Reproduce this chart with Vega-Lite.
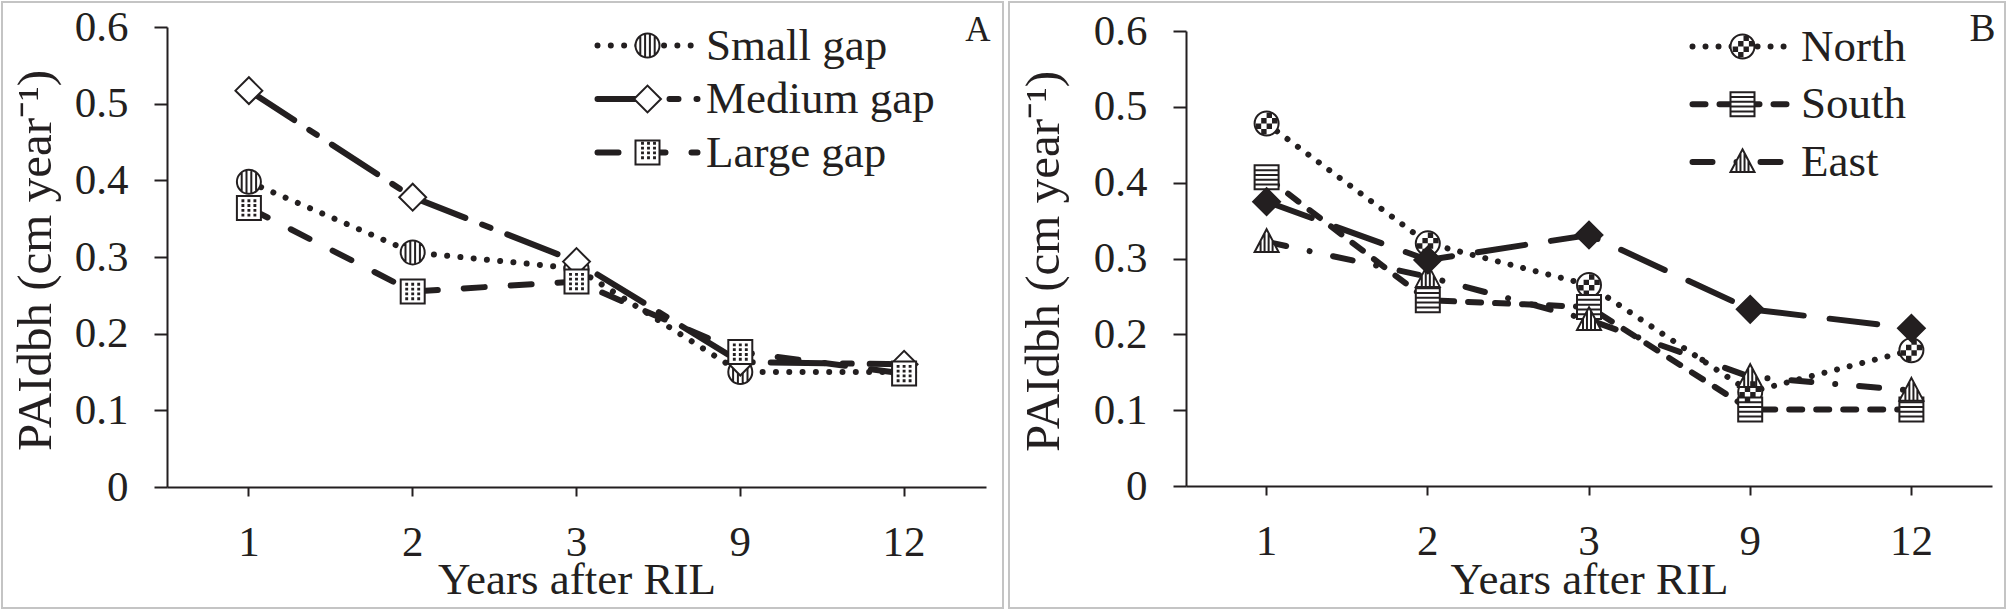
{
  "$schema": "https://vega.github.io/schema/vega-lite/v6.json",
  "padding": {"left": 1, "top": 1, "right": 0, "bottom": 0},
  "background": "white",
  "spacing": 4,
  "datasets": {
    "gap": [
      {"series": "Small gap", "year": 1, "v": 0.398},
      {"series": "Small gap", "year": 2, "v": 0.306},
      {"series": "Small gap", "year": 3, "v": 0.285},
      {"series": "Small gap", "year": 9, "v": 0.150},
      {"series": "Small gap", "year": 12, "v": 0.150},
      {"series": "Medium gap", "year": 1, "v": 0.517},
      {"series": "Medium gap", "year": 2, "v": 0.378},
      {"series": "Medium gap", "year": 3, "v": 0.294},
      {"series": "Medium gap", "year": 9, "v": 0.163},
      {"series": "Medium gap", "year": 12, "v": 0.160},
      {"series": "Large gap", "year": 1, "v": 0.364},
      {"series": "Large gap", "year": 2, "v": 0.255},
      {"series": "Large gap", "year": 3, "v": 0.268},
      {"series": "Large gap", "year": 9, "v": 0.176},
      {"series": "Large gap", "year": 12, "v": 0.148}
    ],
    "aspect": [
      {"series": "North", "year": 1, "v": 0.478},
      {"series": "North", "year": 2, "v": 0.320},
      {"series": "North", "year": 3, "v": 0.265},
      {"series": "North", "year": 9, "v": 0.124},
      {"series": "North", "year": 12, "v": 0.179},
      {"series": "South", "year": 1, "v": 0.407},
      {"series": "South", "year": 2, "v": 0.245},
      {"series": "South", "year": 3, "v": 0.236},
      {"series": "South", "year": 9, "v": 0.101},
      {"series": "South", "year": 12, "v": 0.101},
      {"series": "East", "year": 1, "v": 0.322},
      {"series": "East", "year": 2, "v": 0.276},
      {"series": "East", "year": 3, "v": 0.219},
      {"series": "East", "year": 9, "v": 0.144},
      {"series": "East", "year": 12, "v": 0.126},
      {"series": "West", "year": 1, "v": 0.375},
      {"series": "West", "year": 2, "v": 0.298},
      {"series": "West", "year": 3, "v": 0.331},
      {"series": "West", "year": 9, "v": 0.233},
      {"series": "West", "year": 12, "v": 0.208}
    ]
  },
  "hconcat": [
    {
      "width": 1001,
      "height": 606,
      "data": {"name": "gap"},
      "encoding": {
        "x": {
          "field": "year", "type": "ordinal",
          "scale": {"type": "band", "range": [165, 984], "paddingInner": 0, "paddingOuter": 0},
          "axis": {"orient": "bottom", "offset": -121, "title": "Years after RIL", "titleY": 106, "titleBaseline": "alphabetic", "labelAngle": 0, "bandPosition": 0.5, "tickSize": 9, "labelPadding": 25}
        },
        "y": {
          "field": "v", "type": "quantitative",
          "scale": {"domain": [0, 0.6], "range": [485, 25], "nice": false},
          "axis": {"orient": "left", "offset": -165, "values": [0, 0.1, 0.2, 0.3, 0.4, 0.5, 0.6], "format": ".1~f", "title": "PAIdbh (cm year⁻¹)", "titleFontSize": 49, "titleAngle": -90, "titleX": -117, "titleY": 258, "titleBaseline": "alphabetic", "titleAlign": "center", "tickSize": 13, "labelPadding": 26}
        }
      },
      "layer": [
        {
          "mark": {"type": "line", "color": "#231f20", "strokeWidth": 6, "strokeCap": "round"},
          "encoding": {
            "strokeDash": {
              "field": "series", "type": "nominal",
              "scale": {"domain": ["Small gap", "Medium gap", "Large gap"], "range": [[0.01, 13.3], [54, 18, 9, 18], [21, 26]]},
              "legend": {"orient": "none", "legendX": 623, "legendY": 21, "title": null, "symbolType": "M-5,0L5,0", "symbolSize": 400, "symbolStrokeWidth": 6, "symbolStrokeColor": "#231f20", "labelOffset": 36, "rowPadding": 7.5,
                "encode": {"symbols": {"update": {"strokeCap": {"value": "round"}}}}}
            }
          }
        },
        {
          "mark": {"type": "point", "filled": true, "fill": "white", "stroke": "#231f20", "strokeWidth": 2, "size": 576, "opacity": 1},
          "encoding": {
            "x": {"field": "year", "type": "ordinal", "axis": null},
            "shape": {
              "field": "series", "type": "nominal",
              "scale": {"domain": ["Small gap", "Medium gap", "Large gap"], "range": [
                "M-1,0A1,1,0,1,1,1,0A1,1,0,1,1,-1,0Z M-0.6,-0.8L-0.6,0.8 M-0.2,-0.98L-0.2,0.98 M0.2,-0.98L0.2,0.98 M0.6,-0.8L0.6,0.8",
                "M-1.12,0L0,-1.12L1.12,0L0,1.12Z",
                "M-1,-1L1,-1L1,1L-1,1Z"
              ]},
              "legend": {"orient": "none", "legendX": 623, "legendY": 21, "title": null, "symbolSize": 576, "symbolStrokeWidth": 2, "labelOpacity": 0, "labelOffset": 36, "rowPadding": 7.5,
                "encode": {"symbols": {"update": {"fill": {"value": "white"}, "stroke": {"value": "#231f20"}, "strokeWidth": {"value": 2}, "opacity": {"value": 1}}}}}
            }
          }
        },
        {
          "transform": [{"filter": {"field": "series", "equal": "Large gap"}}],
          "mark": {"type": "point", "filled": true, "fill": "#231f20", "strokeWidth": 0, "size": 576, "opacity": 1},
          "encoding": {
            "x": {"field": "year", "type": "ordinal",
              "axis": {"orient": "top", "domain": false, "ticks": false, "labels": false, "title": "A", "titleX": 988, "titleY": 38, "titleAlign": "right", "titleBaseline": "alphabetic", "titleAngle": 0, "titleFontSize": 35}},
            "shape": {
              "field": "series", "type": "nominal",
              "scale": {"domain": ["Large gap"], "range": [
                "M-0.62,-0.72h0.24v0.24h-0.24Z M-0.12,-0.72h0.24v0.24h-0.24Z M0.38,-0.72h0.24v0.24h-0.24Z M-0.62,-0.32h0.24v0.24h-0.24Z M-0.12,-0.32h0.24v0.24h-0.24Z M0.38,-0.32h0.24v0.24h-0.24Z M-0.62,0.08h0.24v0.24h-0.24Z M-0.12,0.08h0.24v0.24h-0.24Z M0.38,0.08h0.24v0.24h-0.24Z M-0.62,0.48h0.24v0.24h-0.24Z M-0.12,0.48h0.24v0.24h-0.24Z M0.38,0.48h0.24v0.24h-0.24Z"
              ]},
              "legend": {"orient": "none", "legendX": 624, "legendY": 126, "title": null, "symbolSize": 576, "symbolStrokeWidth": 0, "labelOpacity": 0, "labelOffset": 36,
                "encode": {"symbols": {"update": {"fill": {"value": "#231f20"}, "opacity": {"value": 1}}}}}
            }
          }
        }
      ],
      "resolve": {"scale": {"shape": "independent"}, "legend": {"shape": "independent"}, "axis": {"x": "independent"}}
    },
    {
      "width": 996,
      "height": 606,
      "data": {"name": "aspect"},
      "encoding": {
        "x": {
          "field": "year", "type": "ordinal",
          "scale": {"type": "band", "range": [177, 983], "paddingInner": 0, "paddingOuter": 0},
          "axis": {"orient": "bottom", "offset": -122, "title": "Years after RIL", "titleY": 107, "titleBaseline": "alphabetic", "labelAngle": 0, "bandPosition": 0.5, "tickSize": 9, "labelPadding": 25}
        },
        "y": {
          "field": "v", "type": "quantitative",
          "scale": {"domain": [0, 0.6], "range": [484, 29], "nice": false},
          "axis": {"orient": "left", "offset": -177, "values": [0, 0.1, 0.2, 0.3, 0.4, 0.5, 0.6], "format": ".1~f", "title": "PAIdbh (cm year⁻¹)", "titleFontSize": 49, "titleAngle": -90, "titleX": -128, "titleY": 259, "titleBaseline": "alphabetic", "titleAlign": "center", "tickSize": 13, "labelPadding": 26}
        }
      },
      "layer": [
        {
          "mark": {"type": "line", "color": "#231f20", "strokeWidth": 6, "strokeCap": "round"},
          "encoding": {
            "strokeDash": {
              "field": "series", "type": "nominal",
              "scale": {"domain": ["North", "South", "East", "West"], "range": [[0.01, 13], [13, 14], [20, 24, 0.01, 24], [48, 26]]},
              "legend": {"orient": "none", "legendX": 711, "legendY": 22, "title": null, "values": ["North", "South", "East"], "symbolType": "M-5,0L5,0", "symbolSize": 400, "symbolStrokeWidth": 6, "symbolStrokeColor": "#231f20", "labelOffset": 36, "rowPadding": 11.7,
                "encode": {"symbols": {"update": {"strokeCap": {"value": "round"}}}}}
            }
          }
        },
        {
          "mark": {"type": "point", "filled": true, "fill": "white", "stroke": "#231f20", "strokeWidth": 2, "size": 576, "opacity": 1},
          "encoding": {
            "x": {"field": "year", "type": "ordinal", "axis": null},
            "shape": {
              "field": "series", "type": "nominal",
              "scale": {"domain": ["North", "South", "East", "West"], "range": [
                "M-1,0A1,1,0,1,1,1,0A1,1,0,1,1,-1,0Z",
                "M-1,-1L1,-1L1,1L-1,1Z M-1,-0.6L1,-0.6 M-1,-0.2L1,-0.2 M-1,0.2L1,0.2 M-1,0.6L1,0.6",
                "M0,-1.05L1,0.85L-1,0.85Z M-0.5,-0.1L-0.5,0.85 M-0.17,-0.73L-0.17,0.85 M0.17,-0.73L0.17,0.85 M0.5,-0.1L0.5,0.85",
                "M-1.12,0L0,-1.12L1.12,0L0,1.12Z"
              ]},
              "legend": {"orient": "none", "legendX": 711, "legendY": 22, "title": null, "values": ["North", "South", "East"], "symbolSize": 576, "symbolStrokeWidth": 2, "labelOpacity": 0, "labelOffset": 36, "rowPadding": 11.7,
                "encode": {"symbols": {"update": {"fill": {"value": "white"}, "stroke": {"value": "#231f20"}, "strokeWidth": {"value": 2}, "opacity": {"value": 1}}}}}
            }
          }
        },
        {
          "transform": [{"filter": {"field": "series", "oneOf": ["North", "West"]}}],
          "mark": {"type": "point", "filled": true, "fill": "#231f20", "strokeWidth": 0, "size": 576, "opacity": 1},
          "encoding": {
            "x": {"field": "year", "type": "ordinal",
              "axis": {"orient": "top", "domain": false, "ticks": false, "labels": false, "title": "B", "titleX": 986, "titleY": 38, "titleAlign": "right", "titleBaseline": "alphabetic", "titleAngle": 0, "titleFontSize": 39}},
            "shape": {
              "field": "series", "type": "nominal",
              "scale": {"domain": ["North", "West"], "range": [
                "M-0.9,0h0.45v0.45h-0.45Z M-0.45,-0.45h0.45v0.45h-0.45Z M-0.45,0.45h0.45v0.45h-0.45Z M0,-0.9h0.45v0.45h-0.45Z M0,0h0.45v0.45h-0.45Z M0.45,-0.45h0.45v0.45h-0.45Z",
                "M-1.12,0L0,-1.12L1.12,0L0,1.12Z"
              ]},
              "legend": {"orient": "none", "legendX": 712, "legendY": 22, "title": null, "values": ["North"], "symbolSize": 576, "symbolStrokeWidth": 0, "labelOpacity": 0, "labelOffset": 36,
                "encode": {"symbols": {"update": {"fill": {"value": "#231f20"}, "opacity": {"value": 1}}}}}
            }
          }
        }
      ],
      "resolve": {"scale": {"shape": "independent"}, "legend": {"shape": "independent"}, "axis": {"x": "independent"}}
    }
  ],
  "resolve": {
    "scale": {"shape": "independent", "strokeDash": "independent"},
    "legend": {"shape": "independent", "strokeDash": "independent"}
  },
  "config": {
    "font": "Liberation Serif",
    "view": {"stroke": "#c4c4c4", "strokeWidth": 2},
    "axis": {"domainColor": "#231f20", "domainWidth": 2, "tickColor": "#231f20", "tickWidth": 2, "labelColor": "#231f20", "titleColor": "#231f20", "labelFont": "Liberation Serif", "titleFont": "Liberation Serif", "labelFontSize": 43, "titleFontSize": 45, "titleFontWeight": "normal", "grid": false},
    "legend": {"labelFont": "Liberation Serif", "labelFontSize": 45, "labelColor": "#231f20", "labelLimit": 600, "padding": 0}
  }
}
